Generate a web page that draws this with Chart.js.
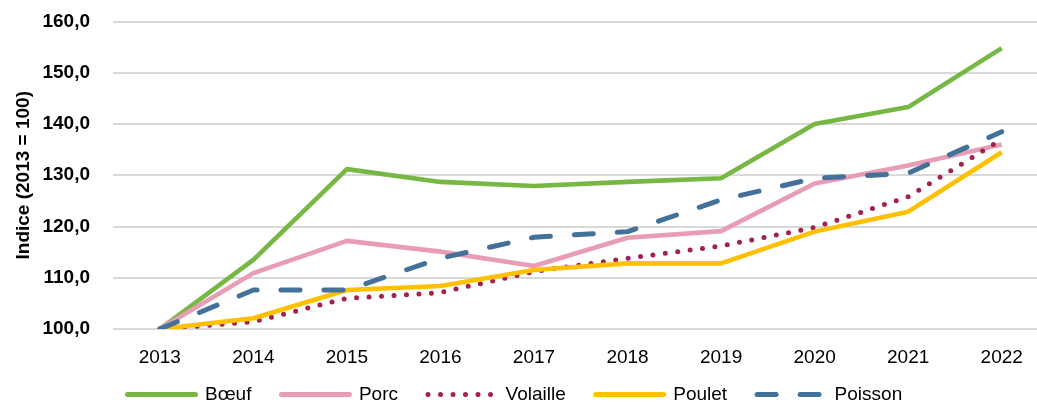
<!DOCTYPE html>
<html>
<head>
<meta charset="utf-8">
<script src="https://cdn.jsdelivr.net/npm/chart.js@4/dist/chart.umd.min.js"></script>
<style>
  html, body { margin: 0; padding: 0; background: #fff; overflow: hidden; }
  #wrap { width: 1050px; height: 402px; }
</style>
</head>
<body>
<div id="wrap"><canvas id="indexChart" width="1050" height="402"></canvas></div>
<script>
const years = ['2013', '2014', '2015', '2016', '2017', '2018', '2019', '2020', '2021', '2022'];
const boeuf = [100, 113.5, 131.2, 128.7, 127.9, 128.7, 129.4, 140.0, 143.3, 154.8];
const porc = [100, 110.9, 117.2, 115.1, 112.3, 117.8, 119.1, 128.4, 131.9, 136.0];
const volaille = [100, 101.4, 106.0, 107.1, 111.2, 113.8, 116.2, 119.8, 125.8, 137.0];
const poulet = [100, 102.1, 107.6, 108.4, 111.5, 112.8, 112.8, 119.0, 122.9, 134.5];
const poisson = [100, 107.6, 107.6, 113.8, 117.9, 119.0, 125.2, 129.4, 130.4, 138.5];
const yTicks = [100, 110, 120, 130, 140, 150, 160];

const FONT = '"Liberation Sans", Arial, sans-serif';

function line(label, data, color, order, dash) {
  return {
    label: label,
    data: data,
    borderColor: color,
    backgroundColor: color,
    borderWidth: dash ? 5 : 4.6,
    borderDash: dash || [],
    borderCapStyle: dash ? 'round' : 'butt',
    borderJoinStyle: 'round',
    pointRadius: 0,
    tension: 0,
    fill: false,
    order: order
  };
}

// legend: keep the wide gaps between items but not the tall box,
// and put the row where the original has it
const LEGEND_H = 32;
const legendPlace = {
  id: 'legendPlace',
  beforeLayout(chart) {
    const lg = chart.legend;
    if (lg && !lg._patched) {
      const fit = lg.fit.bind(lg);
      lg.fit = function () { fit(); this.height = LEGEND_H; };
      lg._patched = true;
    }
  },
  afterLayout(chart) {
    const lg = chart.legend;
    if (!lg) return;
    const w = lg.right - lg.left;
    lg.left = 97.5;
    lg.right = lg.left + w;
    lg.top = 355;
    lg.bottom = 402;
  }
};

new Chart('indexChart', {
  type: 'line',
  data: {
    labels: years,
    datasets: [
      line('Bœuf', boeuf, '#77B845', 5),
      line('Porc', porc, '#E99DB5', 4),
      line('Volaille', volaille, '#A2214D', 3, [0, 12.5]),
      line('Poulet', poulet, '#FFC000', 2),
      line('Poisson', poisson, '#44719A', 1, [19, 24])
    ]
  },
  options: {
    responsive: false,
    animation: false,
    layout: { padding: { top: 0, right: 1.5, left: 0, bottom: 0 } },
    plugins: {
      tooltip: { enabled: false },
      legend: {
        position: 'bottom',
        align: 'start',
        labels: {
          usePointStyle: true,
          pointStyle: 'line',
          pointStyleWidth: 68,
          padding: 30,
          color: '#000',
          font: { family: FONT, size: 19 },
          sort: (a, b) => a.datasetIndex - b.datasetIndex,
          generateLabels: (chart) =>
            Chart.defaults.plugins.legend.labels.generateLabels(chart).map((item) => {
              const ds = chart.data.datasets[item.datasetIndex];
              item.pointStyle = 'line';
              item.lineWidth = 5;
              item.lineCap = 'round';
              item.lineDash = ds.borderDash;
              item.lineDashOffset = 0;
              item.strokeStyle = ds.borderColor;
              return item;
            })
        }
      }
    },
    scales: {
      x: {
        offset: true,
        grid: { display: false, drawTicks: false },
        border: { display: false },
        afterFit: (scale) => { scale.height = 41; },
        ticks: { color: '#000', padding: 17, maxRotation: 0, font: { family: FONT, size: 19 } }
      },
      y: {
        min: 100,
        max: 160,
        afterBuildTicks: (scale) => { scale.ticks = yTicks.map(v => ({ value: v })); },
        afterFit: (scale) => {
          scale.width = 113;
          scale.paddingTop = 21.5;
          scale.paddingBottom = 12;
        },
        grid: { color: '#D9D9D9', lineWidth: 2, drawTicks: false },
        border: { display: false },
        ticks: {
          color: '#000',
          padding: 23,
          font: { family: FONT, size: 19, weight: 'bold' },
          callback: (v) => Number(v).toFixed(1).replace('.', ',')
        },
        title: {
          display: true,
          text: 'Indice (2013 = 100)',
          color: '#000',
          padding: { top: 12.5, bottom: 0 },
          font: { family: FONT, size: 19, weight: 'bold' }
        }
      }
    }
  },
  plugins: [legendPlace]
});
</script>
</body>
</html>
